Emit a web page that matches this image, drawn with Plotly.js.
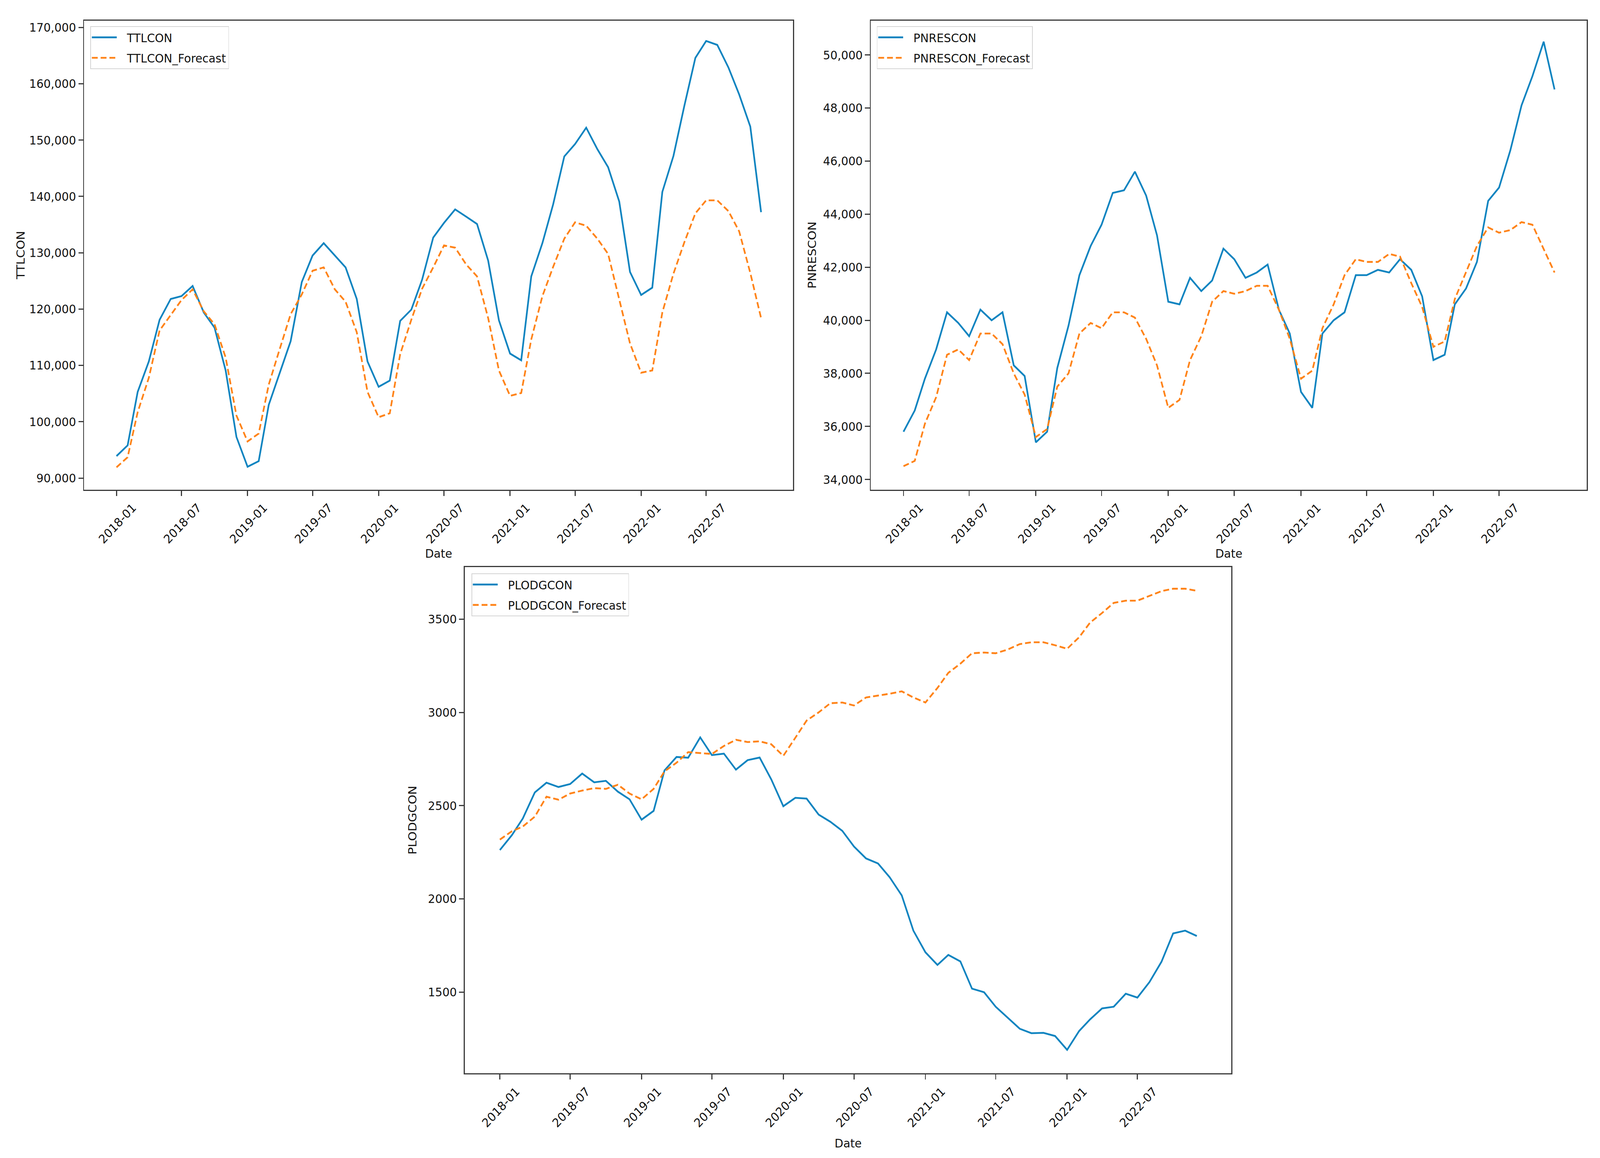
<!DOCTYPE html>
<html>
<head>
<meta charset="utf-8">
<script src="https://cdn.plot.ly/plotly-3.0.1.min.js"></script>
<style>
html,body{margin:0;padding:0;background:#fff;overflow:hidden;}
#chart{width:4372px;height:2965px;transform-origin:0 0;}
</style>
</head>
<body>
<div id="chart"></div>
<script>
const dates = [
 '2018-01-01','2018-02-01','2018-03-01','2018-04-01','2018-05-01','2018-06-01','2018-07-01','2018-08-01','2018-09-01','2018-10-01','2018-11-01','2018-12-01',
 '2019-01-01','2019-02-01','2019-03-01','2019-04-01','2019-05-01','2019-06-01','2019-07-01','2019-08-01','2019-09-01','2019-10-01','2019-11-01','2019-12-01',
 '2020-01-01','2020-02-01','2020-03-01','2020-04-01','2020-05-01','2020-06-01','2020-07-01','2020-08-01','2020-09-01','2020-10-01','2020-11-01','2020-12-01',
 '2021-01-01','2021-02-01','2021-03-01','2021-04-01','2021-05-01','2021-06-01','2021-07-01','2021-08-01','2021-09-01','2021-10-01','2021-11-01','2021-12-01',
 '2022-01-01','2022-02-01','2022-03-01','2022-04-01','2022-05-01','2022-06-01','2022-07-01','2022-08-01','2022-09-01','2022-10-01','2022-11-01','2022-12-01'
];

// x-axis tick positions and labels (as printed in the reference)
const xTickVals = ['2018-01-01','2018-07-01','2019-01-01','2019-07-01','2020-01-01','2020-07-01','2021-01-01','2021-07-01','2022-01-01','2022-07-01'];
const xTickText = ['2018-01','2018-07','2019-01','2019-07','2020-01','2020-07','2021-01','2021-07','2022-01','2022-07'];

const ttlcon = [
 93900, 95800, 105300, 110700, 118100, 121800, 122300, 124100, 119400, 116700, 109100, 97300,
 92000, 93000, 103000, 108800, 114300, 124800, 129500, 131700, 129500, 127400, 121800, 110700,
 106200, 107300, 117900, 119900, 125200, 132700, 135300, 137700, 136400, 135100, 128600, 118000,
 112100, 110900, 125800, 131700, 138600, 147100, 149300, 152200, 148400, 145200, 139100, 126600,
 122500, 123800, 140800, 147200, 156000, 164600, 167600, 166900, 162900, 158100, 152400, 137200
];
const ttlconForecast = [
 91900, 93700, 101700, 107800, 116200, 118900, 121600, 123500, 119600, 117300, 111400, 101100,
 96500, 97900, 106600, 113000, 119100, 122600, 126800, 127400, 123500, 121300, 115900, 105300,
 100800, 101500, 112000, 118100, 123600, 127400, 131300, 130900, 127900, 125800, 118400, 109100,
 104600, 105100, 114600, 122300, 127500, 132500, 135400, 134800, 132500, 129800, 121600, 113900,
 108700, 109100, 119400, 126300, 131800, 137000, 139300, 139300, 137400, 133800, 126400, 118400
];

const pnrescon = [
 35800, 36600, 37800, 38900, 40300, 39900, 39400, 40400, 40000, 40300, 38300, 37900,
 35400, 35800, 38200, 39800, 41700, 42800, 43600, 44800, 44900, 45600, 44700, 43200,
 40700, 40600, 41600, 41100, 41500, 42700, 42300, 41600, 41800, 42100, 40400, 39500,
 37300, 36700, 39500, 40000, 40300, 41700, 41700, 41900, 41800, 42300, 41900, 40900,
 38500, 38700, 40600, 41200, 42200, 44500, 45000, 46400, 48100, 49200, 50500, 48700
];
const pnresconForecast = [
 34500, 34700, 36100, 37100, 38700, 38900, 38500, 39500, 39500, 39100, 38000, 37200,
 35600, 35900, 37500, 38000, 39500, 39900, 39700, 40300, 40300, 40100, 39300, 38300,
 36700, 37000, 38500, 39400, 40700, 41100, 41000, 41100, 41300, 41300, 40400, 39300,
 37800, 38100, 39700, 40600, 41700, 42300, 42200, 42200, 42500, 42400, 41400, 40500,
 39000, 39200, 40800, 41800, 42800, 43500, 43300, 43400, 43700, 43600, 42700, 41800
];

const plodgcon = [
 2262, 2342, 2431, 2571, 2623, 2600, 2616, 2672, 2625, 2633, 2575, 2534,
 2425, 2472, 2689, 2761, 2757, 2866, 2771, 2779, 2693, 2744, 2758, 2641,
 2497, 2542, 2538, 2452, 2414, 2365, 2281, 2217, 2190, 2116, 2019, 1830,
 1714, 1646, 1700, 1665, 1519, 1500, 1422, 1364, 1304, 1280, 1282, 1265,
 1191, 1292, 1354, 1413, 1422, 1492, 1471, 1554, 1663, 1815, 1830, 1801
];
const plodgconForecast = [
 2318, 2363, 2388, 2441, 2548, 2532, 2565, 2581, 2594, 2590, 2612, 2565,
 2534, 2590, 2684, 2730, 2787, 2783, 2777, 2820, 2853, 2841, 2845, 2829,
 2767, 2864, 2956, 3000, 3049, 3053, 3037, 3080, 3090, 3100, 3113, 3080,
 3053, 3131, 3212, 3261, 3317, 3321, 3317, 3337, 3366, 3376, 3376, 3360,
 3341, 3403, 3481, 3533, 3587, 3599, 3599, 3624, 3650, 3663, 3663, 3652
];

const seriesNames = ['TTLCON', 'PNRESCON', 'PLODGCON'];

// The chart is laid out at the reference size and then fitted to the real viewport.
const REF_W = 4372, REF_H = 2965;
const W = window.innerWidth || REF_W;
const H = window.innerHeight || REF_H;
document.getElementById('chart').style.transform = 'scale(' + (W / REF_W) + ',' + (H / REF_H) + ')';

const FONT = 'DejaVu Sans, Verdana, sans-serif';
const FS = 31;
const BLUE = '#0f84c0';
const ORANGE = '#ff8318';
const AX = '#3a3a3a';

function actual(y, name, xa, ya, leg) {
  return {x: dates, y: y, name: name, type: 'scatter', mode: 'lines', xaxis: xa, yaxis: ya,
          legend: leg, legendgroup: name, line: {color: BLUE, width: 4.6}};
}
function forecast(y, name, xa, ya, leg) {
  return {x: dates, y: y, name: name, type: 'scatter', mode: 'lines', xaxis: xa, yaxis: ya,
          legend: leg, legendgroup: name, line: {color: ORANGE, width: 4.6, dash: '16px,8px'}};
}

const data = [
  actual(ttlcon, seriesNames[0], 'x', 'y', 'legend'),
  forecast(ttlconForecast, seriesNames[0] + '_Forecast', 'x', 'y', 'legend'),
  actual(pnrescon, seriesNames[1], 'x2', 'y2', 'legend2'),
  forecast(pnresconForecast, seriesNames[1] + '_Forecast', 'x2', 'y2', 'legend2'),
  actual(plodgcon, seriesNames[2], 'x3', 'y3', 'legend3'),
  forecast(plodgconForecast, seriesNames[2] + '_Forecast', 'x3', 'y3', 'legend3')
];

function xax(domain, anchor, standoff) {
  return {
    domain: domain, anchor: anchor, type: 'date',
    range: ['2017-10-03', '2023-02-28'],
    tickmode: 'array', tickvals: xTickVals, ticktext: xTickText, tickangle: -45,
    ticks: 'outside', ticklen: 13, tickwidth: 3, tickcolor: AX,
    showline: true, linewidth: 3, linecolor: AX, mirror: true,
    showgrid: false, zeroline: false,
    tickfont: {family: FONT, size: FS, color: '#111'},
    ticklabelshift: 45,
    title: {text: 'Date', font: {family: FONT, size: FS, color: '#111'}, standoff: standoff}
  };
}
function yax(domain, anchor, range, dtick, fmt, title, standoff) {
  return {
    domain: domain, anchor: anchor, range: range, dtick: dtick, tickformat: fmt,
    ticks: 'outside', ticklen: 13, tickwidth: 3, tickcolor: AX,
    showline: true, linewidth: 3, linecolor: AX, mirror: true,
    showgrid: false, zeroline: false,
    tickfont: {family: FONT, size: FS, color: '#111'},
    title: {text: title, font: {family: FONT, size: FS, color: '#111'}, standoff: standoff}
  };
}
function leg(x, y) {
  return {x: x, y: y, xanchor: 'left', yanchor: 'top', bgcolor: 'rgba(255,255,255,0.85)',
          bordercolor: '#d4d4d4', borderwidth: 2, font: {family: FONT, size: FS, color: '#111'},
          tracegroupgap: 9, itemwidth: 88};
}

const layout = {
  width: REF_W, height: REF_H,
  margin: {l: 0, r: 0, t: 0, b: 0},
  paper_bgcolor: '#ffffff', plot_bgcolor: '#ffffff',
  font: {family: FONT, size: FS, color: '#111'},
  showlegend: true,
  xaxis: xax([0.05261, 0.49565], 'y', 6),
  yaxis: yax([0.57723, 0.98223], 'x', [87955, 171220], 10000, ',d', seriesNames[0], 3),
  xaxis2: xax([0.54428, 0.99177], 'y2', 6),
  yaxis2: yax([0.57723, 0.98223], 'x2', [33620, 51295], 2000, ',d', seriesNames[1], 10),
  xaxis3: xax([0.29058, 0.76960], 'y3', 24),
  yaxis3: yax([0.07312, 0.51045], 'x3', [1065, 3780], 500, 'd', seriesNames[2], 22),
  legend: leg(0.0565, 0.9774),
  legend2: leg(0.5480, 0.9774),
  legend3: leg(0.2946, 0.5049)
};

Plotly.newPlot('chart', data, layout, {staticPlot: true, displayModeBar: false}).then(function (gd) {
  // lengthen the legend line samples to match the reference legend keys
  gd.querySelectorAll('.legendlines path').forEach(function (p) {
    p.setAttribute('d', 'M2,0h68');
  });
});
</script>
</body>
</html>
